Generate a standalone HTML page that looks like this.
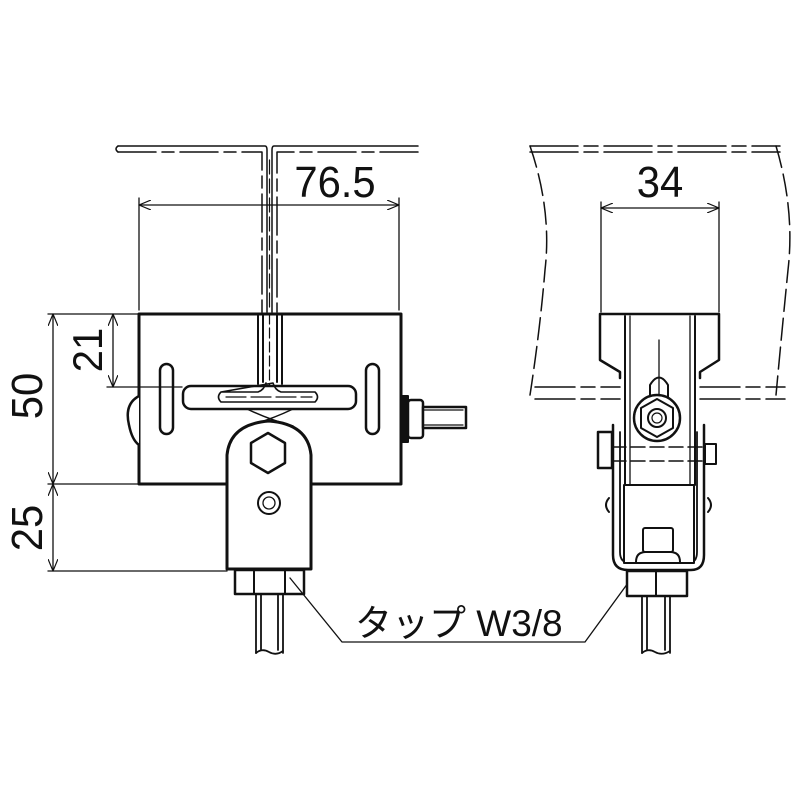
<!DOCTYPE html>
<html><head><meta charset="utf-8"><style>
html,body{margin:0;padding:0;background:#fff;}
svg{display:block;}
text{font-family:"Liberation Sans","Noto Sans CJK JP",sans-serif;fill:#111;}
</style></head><body>
<svg width="800" height="800" viewBox="0 0 800 800" xmlns="http://www.w3.org/2000/svg" fill="none" stroke="#111" stroke-linecap="round" stroke-linejoin="round">
<defs>
<marker id="ar" viewBox="0 0 12 10" refX="12" refY="5" markerWidth="12" markerHeight="10" markerUnits="userSpaceOnUse" orient="auto-start-reverse"><path d="M0,0 L12,5 L0,10" fill="none" stroke="#111" stroke-width="1.2"/></marker>
</defs>

<!-- ===== LEFT VIEW ===== -->
<g stroke-width="1.5">
<path d="M118,146 H265 Q267,146 267,150 V312"/>
<path d="M118,152 H262 V312" stroke-dasharray="38,6,12,6"/>
<path d="M418,146 H274 Q272,146 272,150 V312"/>
<path d="M418,152 H277 V312" stroke-dasharray="38,6,12,6"/>
<path d="M118,146 Q114,149 118,152"/>
</g>
<line x1="269.5" y1="160" x2="269.5" y2="312" stroke-width="1.2" stroke-dasharray="14,5"/>

<g stroke-width="1.3">
<line x1="139" y1="205" x2="399" y2="205" marker-start="url(#ar)" marker-end="url(#ar)"/>
<line x1="139" y1="198" x2="139" y2="310"/>
<line x1="399" y1="198" x2="399" y2="310"/>
</g>
<text x="335" y="197" font-size="44" text-anchor="middle" stroke="none" transform="translate(335 0) scale(0.95 1) translate(-335 0)">76.5</text>

<rect x="139" y="314" width="262" height="170" stroke-width="3" fill="#fff"/>
<g stroke-width="2">
<line x1="258" y1="315" x2="258" y2="384"/>
<line x1="282" y1="315" x2="282" y2="384"/>
<line x1="263" y1="315" x2="263" y2="382"/>
<line x1="277" y1="315" x2="277" y2="382"/>
</g>
<line x1="269.5" y1="314" x2="269.5" y2="386" stroke-width="1.2" stroke-dasharray="10,4"/>
<rect x="160" y="364" width="13" height="70" rx="6.5" stroke-width="2.5" fill="#fff"/>
<rect x="366" y="364" width="13" height="70" rx="6.5" stroke-width="2.5" fill="#fff"/>
<rect x="183" y="386" width="173" height="23" rx="8" stroke-width="2.5" fill="#fff"/>
<path d="M221,392 H258 Q264,390 266,383 M273,383 Q275,390 281,392 H315 Q320,397 315,402 H221 Q216,397 221,392 Z" stroke-width="1.6"/>
<line x1="226" y1="397" x2="312" y2="397" stroke-width="1.2" stroke-dasharray="20,5"/>
<path d="M139,396 Q124,404 129,425 Q132,440 139,445" stroke-width="2.5" fill="#fff"/>
<rect x="402" y="396" width="6" height="46" stroke-width="2" fill="#111"/>
<rect x="408" y="400" width="15" height="38" rx="3" stroke-width="2.5" fill="#fff"/>
<rect x="423" y="407" width="43" height="21" stroke-width="2.5" fill="#fff"/>
<line x1="423" y1="410" x2="463" y2="410" stroke-width="1.2"/>
<line x1="423" y1="425" x2="463" y2="425" stroke-width="1.2"/>
<path d="M247,409 Q270,420 293,426 M293,409 Q270,420 247,426" stroke-width="1.5"/>
<path d="M227,569 V455 Q230,424 269,421 Q308,424 311,455 V569 Z" stroke-width="3" fill="#fff"/>
<polygon points="268,433 285,443 285,463 268,473 251,463 251,443" stroke-width="2.5" fill="#fff"/>
<circle cx="269" cy="503" r="11" stroke-width="2"/>
<circle cx="269" cy="503" r="6" stroke-width="1.3"/>
<rect x="235" y="570" width="69" height="24" stroke-width="2.5" fill="#fff"/>
<line x1="254" y1="570" x2="254" y2="594" stroke-width="2"/>
<line x1="285" y1="570" x2="285" y2="594" stroke-width="2"/>
<g stroke-width="1.8">
<line x1="256" y1="594" x2="256" y2="653"/>
<line x1="283" y1="594" x2="283" y2="653"/>
<line x1="261" y1="594" x2="261" y2="650"/>
<line x1="278" y1="594" x2="278" y2="650"/>
<path d="M256,653 Q262,648 269,652 Q276,656 283,651"/>
</g>

<g stroke-width="1.3">
<line x1="48" y1="314" x2="139" y2="314"/>
<line x1="48" y1="484" x2="139" y2="484"/>
<line x1="48" y1="571" x2="227" y2="571"/>
<line x1="53" y1="314" x2="53" y2="484" marker-start="url(#ar)" marker-end="url(#ar)"/>
<line x1="53" y1="484" x2="53" y2="571" marker-start="url(#ar)" marker-end="url(#ar)"/>
<line x1="107" y1="387" x2="182" y2="387"/>
<line x1="113" y1="314" x2="113" y2="387" marker-start="url(#ar)" marker-end="url(#ar)"/>
</g>
<text font-size="44" stroke="none" text-anchor="middle" transform="translate(42 396) rotate(-90) scale(0.95 1)">50</text>
<text font-size="44" stroke="none" text-anchor="middle" transform="translate(42 528) rotate(-90) scale(0.95 1)">25</text>
<text font-size="42" stroke="none" text-anchor="middle" transform="translate(102 350) rotate(-90) scale(0.95 1)">21</text>

<path d="M290,578 L342,642 H585 L636,572" stroke-width="1.3"/>
<text x="355" y="636" font-size="37" stroke="none">タップ W3/8</text>

<!-- ===== RIGHT VIEW ===== -->
<g stroke-width="1.5">
<path d="M530,146 H780" stroke-dasharray="48,6,14,6"/>
<path d="M530,152 H780" stroke-dasharray="48,6,14,6"/>
<path d="M530,146 Q552,210 545,270 Q540,330 530,395" stroke-dasharray="22,7"/>
<path d="M776,146 Q795,210 788,270 Q782,330 776,395" stroke-dasharray="22,7"/>
<path d="M535,387 H620 M700,387 H785" stroke-dasharray="40,6,14,6"/>
<path d="M535,399 H620 M700,399 H785" stroke-dasharray="40,6,14,6"/>
</g>
<g stroke-width="1.3">
<line x1="601" y1="208" x2="719" y2="208" marker-start="url(#ar)" marker-end="url(#ar)"/>
<line x1="601" y1="202" x2="601" y2="312"/>
<line x1="719" y1="202" x2="719" y2="312"/>
</g>
<text x="660" y="197" font-size="44" stroke="none" text-anchor="middle" transform="translate(660 0) scale(0.95 1) translate(-660 0)">34</text>
<path d="M600,314 H719 V360 L700,372 V378 M600,314 V360 L620,372 V378" stroke-width="2.5"/>
<line x1="625" y1="316" x2="625" y2="485" stroke-width="2"/>
<line x1="630" y1="316" x2="630" y2="485" stroke-width="1.3"/>
<line x1="695" y1="316" x2="695" y2="485" stroke-width="2"/>
<line x1="690" y1="316" x2="690" y2="485" stroke-width="1.3"/>
<line x1="659" y1="340" x2="659" y2="400" stroke-width="1.3"/>
<path d="M650,405 V385 Q659,370 668,385 V405" stroke-width="2"/>
<path d="M613,425 V555 Q613,570 628,570 H691 Q704,570 704,555 V425" stroke-width="2.5"/>
<path d="M620,432 V552 Q620,563 630,563 H688 Q697,563 697,552 V432" stroke-width="1.8"/>
<path d="M609,498 Q603,505 609,512 M708,498 Q714,505 708,512" stroke-width="2"/>
<rect x="598" y="432" width="14" height="36" stroke-width="2.5" fill="#fff"/>
<rect x="705" y="444" width="11" height="20" stroke-width="2" fill="#fff"/>
<line x1="612" y1="447" x2="705" y2="447" stroke-width="1.5" stroke-dasharray="14,5"/>
<line x1="612" y1="461" x2="705" y2="461" stroke-width="1.5" stroke-dasharray="14,5"/>
<circle cx="657" cy="418" r="23" stroke-width="2.5" fill="#fff"/>
<polygon points="657,399 673,408 673,428 657,437 641,428 641,408" stroke-width="2"/>
<circle cx="657" cy="418" r="9" stroke-width="2"/>
<circle cx="657" cy="418" r="5" stroke-width="1.2"/>
<rect x="624" y="485" width="70" height="78" stroke-width="2" fill="#fff"/>
<rect x="643" y="528" width="30" height="24" rx="2" stroke-width="2" fill="#fff"/>
<path d="M636,562 Q636,552 646,552 H670 Q680,552 680,562" stroke-width="2"/>
<rect x="627" y="571" width="60" height="25" stroke-width="2.5" fill="#fff"/>
<line x1="656" y1="571" x2="656" y2="596" stroke-width="2"/>
<g stroke-width="1.8">
<line x1="642" y1="596" x2="642" y2="653"/>
<line x1="670" y1="596" x2="670" y2="653"/>
<line x1="647" y1="596" x2="647" y2="650"/>
<line x1="665" y1="596" x2="665" y2="650"/>
<path d="M642,653 Q648,648 655,652 Q662,656 670,651"/>
</g>
</svg>
</body></html>
